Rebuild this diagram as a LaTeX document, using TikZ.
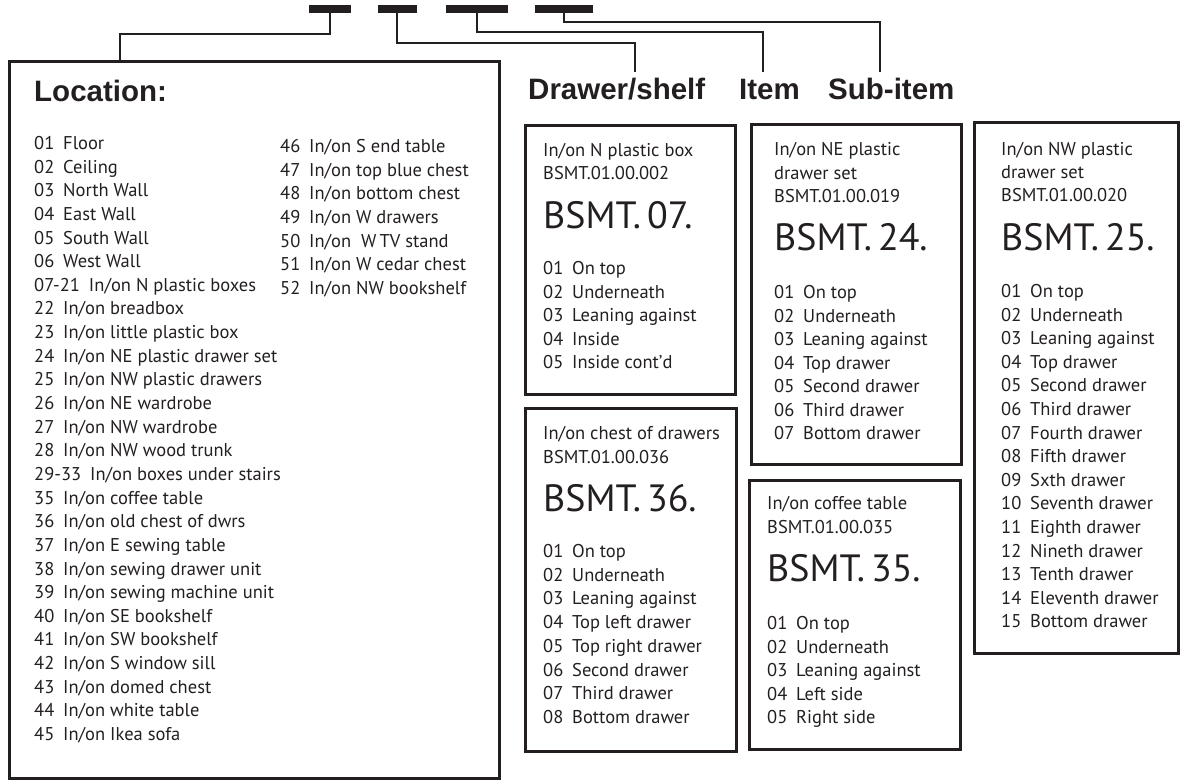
\documentclass[tikz,border=0pt]{standalone}
\usepackage{fontspec}
\usetikzlibrary{positioning,calc}
\newfontfamily\bodyfont{PT Sans}
\newfontfamily\headfont{Liberation Sans}
\definecolor{Ink}{HTML}{231F20}
\tikzset{
  boxframe/.style={draw=Ink,line width=3pt,anchor=north west,inner sep=0pt},
  codebar/.style={fill=Ink,minimum height=8pt,inner sep=0pt},
  conn/.style={draw=Ink,line width=2.3pt},
  headtext/.style={anchor=base west,inner sep=0pt,text=Ink,font=\headfont\bfseries\fontsize{29.5}{32}\selectfont},
  listtext/.style={anchor=base west,inner sep=0pt,text=Ink,font=\bodyfont\fontsize{18.5}{22}\selectfont},
  bigcode/.style={anchor=base west,inner sep=0pt,text=Ink,font=\bodyfont\fontsize{38}{42}\selectfont}
}
% number column: two digits get a fixed column, ranges just a gap
\newcommand{\entry}[2]{\sbox0{#1}\ifdim\wd0>25pt #1\hspace{9pt}#2\else\makebox[29pt][l]{#1}#2\fi}

\begin{document}
\begin{tikzpicture}[x=1pt,y=-1pt]
  \useasboundingbox (0,0) rectangle (1182,781);

  % code bars
  \node[codebar,minimum width=42pt] (bar1) at (330,9) {};
  \node[codebar,minimum width=39pt] (bar2) at (397,9) {};
  \node[codebar,minimum width=62pt] (bar3) at (477,9) {};
  \node[codebar,minimum width=58pt] (bar4) at (564,9) {};

  % location box
  \node[boxframe,minimum width=490pt,minimum height=717pt] (loc) at (8,60) {};
  \node[headtext] (loctitle) at ([shift={(26,42)}]loc.north west) {Location:};
  \foreach \n/\t [count=\i from 0] in {01/Floor,02/Ceiling,03/North Wall,04/East Wall,
      05/South Wall,06/West Wall,{07-21}/{In/on N plastic boxes},22/{In/on breadbox},
      23/{In/on little plastic box},24/{In/on NE plastic drawer set},25/{In/on NW plastic drawers},
      26/{In/on NE wardrobe},27/{In/on NW wardrobe},28/{In/on NW wood trunk},
      {29-33}/{In/on boxes under stairs},35/{In/on coffee table},36/{In/on old chest of dwrs},
      37/{In/on E sewing table},38/{In/on sewing drawer unit},39/{In/on sewing machine unit},
      40/{In/on SE bookshelf},41/{In/on SW bookshelf},42/{In/on S window sill},
      43/{In/on domed chest},44/{In/on white table},45/{In/on Ikea sofa}}
    \node[listtext] (loca\i) at ([shift={(26,89.5+23.64*\i)}]loc.north west) {\entry{\n}{\t}};
  \foreach \n/\t [count=\i from 0] in {46/{In/on S end table},47/{In/on top blue chest},
      48/{In/on bottom chest},49/{In/on W drawers},50/{In/on \ W\,TV stand},
      51/{In/on W cedar chest},52/{In/on NW bookshelf}}
    \node[listtext] (locb\i) at ([shift={(272,92.5+23.64*\i)}]loc.north west) {\entry{\n}{\t}};

  % headings
  \node[headtext] (drawer) at (528,100) {Drawer/shelf};
  \node[headtext] (item) at (739,100) {Item};
  \node[headtext] (subitem) at (828,100) {Sub-item};
  \coordinate (locin) at (120,60);
  \coordinate (drawerin) at (635,72);
  \coordinate (itemin) at (763,72);
  \coordinate (subin) at (880,72);

  % connectors
  \draw[conn] (bar1.south) -- ++(0,21) -| (locin);
  \draw[conn] (bar2.south) -- ++(0,30) -| (drawerin);
  \draw[conn] (bar3.south) -- ++(0,19) -| (itemin);
  \draw[conn] (bar4.south) -- ++(0,9) -| (subin);

  % N plastic box
  \node[boxframe,minimum width=210pt,minimum height=269pt] (boxa) at (524,124) {};
  \node[listtext] (boxa-t1) at ([shift={(19,32)}]boxa.north west) {In/on N plastic box};
  \node[listtext] (boxa-t2) at ([shift={(19,55.5)}]boxa.north west) {BSMT.01.00.002};
  \node[bigcode] (boxa-code) at ([shift={(19,104)}]boxa.north west) {BSMT.\hspace{0.16em}07.};
  \foreach \n/\t [count=\i from 0] in {01/On top,02/Underneath,03/Leaning against,04/Inside,05/Inside cont’d}
    \node[listtext] (boxa\i) at ([shift={(19,150.5+23.5*\i)}]boxa.north west) {\entry{\n}{\t}};

  % chest of drawers
  \node[boxframe,minimum width=211pt,minimum height=343pt] (boxb) at (524,407) {};
  \node[listtext] (boxb-t1) at ([shift={(19,32.5)}]boxb.north west) {In/on chest of drawers};
  \node[listtext] (boxb-t2) at ([shift={(19,56.5)}]boxb.north west) {BSMT.01.00.036};
  \node[bigcode] (boxb-code) at ([shift={(19,104)}]boxb.north west) {BSMT.\hspace{0.16em}36.};
  \foreach \n/\t [count=\i from 0] in {01/On top,02/Underneath,03/Leaning against,04/Top left drawer,
      05/Top right drawer,06/Second drawer,07/Third drawer,08/Bottom drawer}
    \node[listtext] (boxb\i) at ([shift={(19,150.5+23.7*\i)}]boxb.north west) {\entry{\n}{\t}};

  % NE plastic drawer set
  \node[boxframe,minimum width=210pt,minimum height=340pt] (boxc) at (750,123) {};
  \foreach \t [count=\i from 0] in {In/on NE plastic,drawer set,BSMT.01.00.019}
    \node[listtext] (boxc-t\i) at ([shift={(24,32.5+23.5*\i)}]boxc.north west) {\t};
  \node[bigcode] (boxc-code) at ([shift={(24,127)}]boxc.north west) {BSMT.\hspace{0.16em}24.};
  \foreach \n/\t [count=\i from 0] in {01/On top,02/Underneath,03/Leaning against,04/Top drawer,
      05/Second drawer,06/Third drawer,07/Bottom drawer}
    \node[listtext] (boxc\i) at ([shift={(24,175.5+23.5*\i)}]boxc.north west) {\entry{\n}{\t}};

  % coffee table
  \node[boxframe,minimum width=211pt,minimum height=269pt] (boxd) at (748,479) {};
  \node[listtext] (boxd-t1) at ([shift={(19,30.5)}]boxd.north west) {In/on coffee table};
  \node[listtext] (boxd-t2) at ([shift={(19,54.5)}]boxd.north west) {BSMT.01.00.035};
  \node[bigcode] (boxd-code) at ([shift={(19,102)}]boxd.north west) {BSMT.\hspace{0.16em}35.};
  \foreach \n/\t [count=\i from 0] in {01/On top,02/Underneath,03/Leaning against,04/Left side,05/Right side}
    \node[listtext] (boxd\i) at ([shift={(19,150.5+23.5*\i)}]boxd.north west) {\entry{\n}{\t}};

  % NW plastic drawer set
  \node[boxframe,minimum width=204pt,minimum height=531pt] (boxe) at (973,121) {};
  \foreach \t [count=\i from 0] in {In/on NW plastic,drawer set,BSMT.01.00.020}
    \node[listtext] (boxe-t\i) at ([shift={(28,34.5+23*\i)}]boxe.north west) {\t};
  \node[bigcode] (boxe-code) at ([shift={(28,129)}]boxe.north west) {BSMT.\hspace{0.16em}25.};
  \foreach \n/\t [count=\i from 0] in {01/On top,02/Underneath,03/Leaning against,04/Top drawer,
      05/Second drawer,06/Third drawer,07/Fourth drawer,08/Fifth drawer,09/Sxth drawer,
      10/Seventh drawer,11/Eighth drawer,12/Nineth drawer,13/Tenth drawer,14/Eleventh drawer,
      15/Bottom drawer}
    \node[listtext] (boxe\i) at ([shift={(28,176.5+23.6*\i)}]boxe.north west) {\entry{\n}{\t}};
\end{tikzpicture}
\end{document}
